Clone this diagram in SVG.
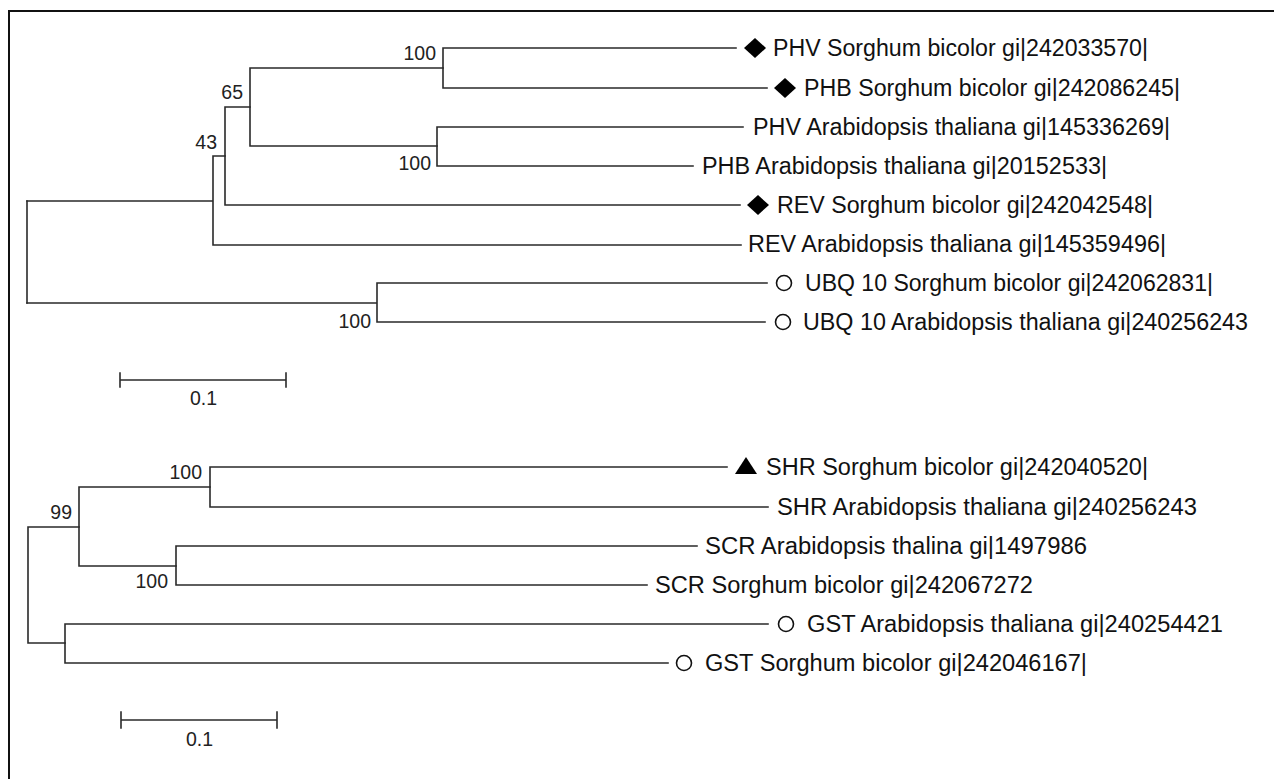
<svg xmlns="http://www.w3.org/2000/svg" width="1274" height="779" viewBox="0 0 1274 779">
<style>
.br{stroke:#2a2a2a;stroke-width:1.6;fill:none;stroke-linecap:square}
.lf{font-family:"Liberation Sans",Arial,sans-serif;font-size:23px;fill:#111}
.bs{font-family:"Liberation Sans",Arial,sans-serif;font-size:19.5px;fill:#222}
.bsm{text-anchor:end}
.dia{fill:#000}
.cir{fill:#fff;stroke:#111;stroke-width:1.6}
</style>
<defs>
<polygon id="diamond" class="dia" points="0,-10 11,0 0,10 -11,0"/>
<circle id="circ" class="cir" r="7.5"/>
<polygon id="tri" class="dia" points="0,-9 11,8 -11,8"/>
</defs>
<rect width="1274" height="779" fill="#fff"/>
<path d="M9,780 V11 H1275" stroke="#111" stroke-width="2" fill="none"/>

<g id="connectors">
<!-- top tree -->
<path class="br" d="M27,201 V303"/>
<path class="br" d="M27,201 H213 M213,156 V245 M213,156 H225 M213,245 H741"/>
<path class="br" d="M225,107 V205 M225,107 H250 M225,205 H740"/>
<path class="br" d="M250,68 V146 M250,68 H443 M250,146 H437"/>
<path class="br" d="M443,48 V88 M443,48 H736 M443,88 H767"/>
<path class="br" d="M437,127 V166 M437,127 H743 M437,166 H693"/>
<path class="br" d="M27,303 H377 M377,283 V322 M377,283 H767 M377,322 H765"/>
<!-- top scale bar -->
<path class="br" d="M120,380 H286 M120,373 V387 M286,373 V387"/>
<!-- bottom tree -->
<path class="br" d="M28,527 V643 M28,527 H79 M28,643 H65"/>
<path class="br" d="M79,487 V566 M79,487 H210 M79,566 H176"/>
<path class="br" d="M210,467 V507 M210,467 H727 M210,507 H768"/>
<path class="br" d="M176,546 V585 M176,546 H697 M176,585 H647"/>
<path class="br" d="M65,624 V663 M65,624 H768 M65,663 H668"/>
<!-- bottom scale bar -->
<path class="br" d="M121,720 H277 M121,712 V728 M277,712 V728"/>
</g>

<g id="bootstrap">
<text class="bs bsm" x="436" y="60">100</text>
<text class="bs bsm" x="243" y="99">65</text>
<text class="bs bsm" x="217" y="149">43</text>
<text class="bs bsm" x="431" y="170">100</text>
<text class="bs bsm" x="371" y="328">100</text>
<text class="bs" x="190" y="405">0.1</text>
<text class="bs bsm" x="202" y="479">100</text>
<text class="bs bsm" x="72" y="519">99</text>
<text class="bs bsm" x="168" y="588">100</text>
<text class="bs" x="186" y="746">0.1</text>
</g>

<g id="leaf-phv-sb"><use href="#diamond" x="755" y="48"/><text class="lf" x="773" y="56" textLength="375" lengthAdjust="spacingAndGlyphs">PHV Sorghum bicolor gi|242033570|</text></g>
<g id="leaf-phb-sb"><use href="#diamond" x="785" y="88"/><text class="lf" x="804" y="96" textLength="376" lengthAdjust="spacingAndGlyphs">PHB Sorghum bicolor gi|242086245|</text></g>
<g id="leaf-phv-at"><text class="lf" x="753" y="135" textLength="417" lengthAdjust="spacingAndGlyphs">PHV Arabidopsis thaliana gi|145336269|</text></g>
<g id="leaf-phb-at"><text class="lf" x="702" y="174" textLength="405" lengthAdjust="spacingAndGlyphs">PHB Arabidopsis thaliana gi|20152533|</text></g>
<g id="leaf-rev-sb"><use href="#diamond" x="758" y="205"/><text class="lf" x="777" y="213" textLength="376" lengthAdjust="spacingAndGlyphs">REV Sorghum bicolor gi|242042548|</text></g>
<g id="leaf-rev-at"><text class="lf" x="748" y="252" textLength="418" lengthAdjust="spacingAndGlyphs">REV Arabidopsis thaliana gi|145359496|</text></g>
<g id="leaf-ubq-sb"><use href="#circ" x="784" y="283"/><text class="lf" x="805" y="291" textLength="408" lengthAdjust="spacingAndGlyphs">UBQ 10 Sorghum bicolor gi|242062831|</text></g>
<g id="leaf-ubq-at"><use href="#circ" x="783" y="322"/><text class="lf" x="803" y="330" textLength="445" lengthAdjust="spacingAndGlyphs">UBQ 10 Arabidopsis thaliana gi|240256243</text></g>

<g id="leaf-shr-sb"><use href="#tri" x="746" y="466"/><text class="lf" x="766" y="475" textLength="382" lengthAdjust="spacingAndGlyphs">SHR Sorghum bicolor gi|242040520|</text></g>
<g id="leaf-shr-at"><text class="lf" x="777" y="515" textLength="420" lengthAdjust="spacingAndGlyphs">SHR Arabidopsis thaliana gi|240256243</text></g>
<g id="leaf-scr-at"><text class="lf" x="705" y="554" textLength="382" lengthAdjust="spacingAndGlyphs">SCR Arabidopsis thalina gi|1497986</text></g>
<g id="leaf-scr-sb"><text class="lf" x="655" y="593" textLength="378" lengthAdjust="spacingAndGlyphs">SCR Sorghum bicolor gi|242067272</text></g>
<g id="leaf-gst-at"><use href="#circ" x="786" y="624"/><text class="lf" x="807" y="632" textLength="416" lengthAdjust="spacingAndGlyphs">GST Arabidopsis thaliana gi|240254421</text></g>
<g id="leaf-gst-sb"><use href="#circ" x="684" y="663"/><text class="lf" x="705" y="671" textLength="382" lengthAdjust="spacingAndGlyphs">GST Sorghum bicolor gi|242046167|</text></g>
</svg>
